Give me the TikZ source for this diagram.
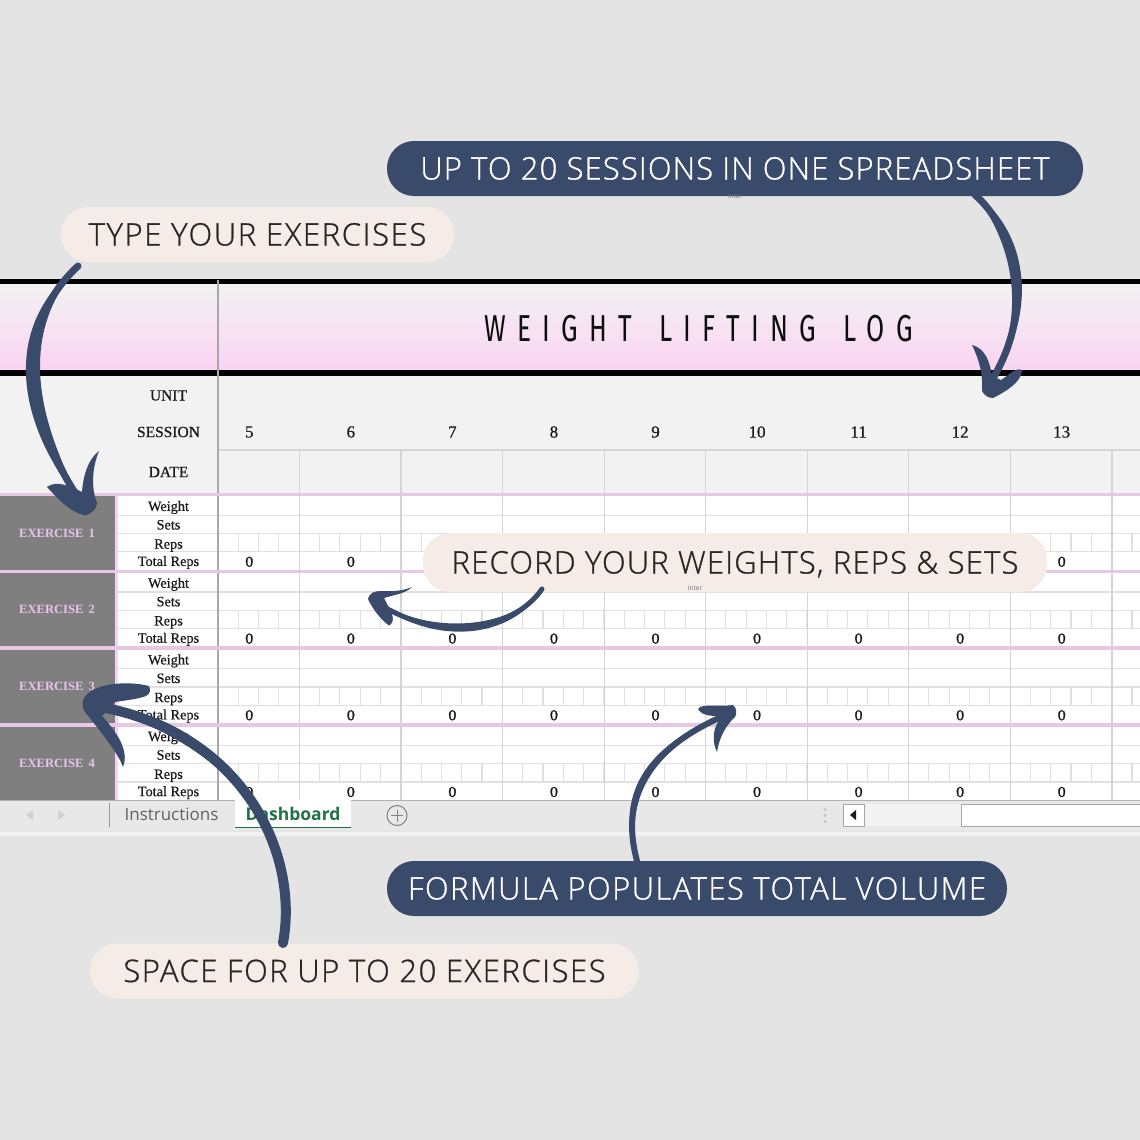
\documentclass[tikz,border=0pt]{standalone}
\usepackage{fontspec}
\setmainfont{Liberation Serif}
\newfontfamily\cellfont[FakeBold=0.5]{Liberation Serif}
\newfontfamily\pillfont[FakeBold=0.9]{Open Sans Light}
\newfontfamily\uifont{Open Sans}
\newfontfamily\zerofont[FakeBold=1.5]{DejaVu Serif}
\newfontfamily\titlefont[FakeStretch=0.7,LetterSpace=30]{Fira Sans}
\definecolor{pagebg}{HTML}{E4E4E4}
\definecolor{headbg}{HTML}{F2F2F2}
\definecolor{headpink}{HTML}{FAD4F2}
\definecolor{gridc}{HTML}{E0E0E0}
\definecolor{colc}{HTML}{D4D4D4}
\definecolor{darkcol}{HTML}{A8A8A8}
\definecolor{pinkline}{HTML}{E8C6E6}
\definecolor{pinkstripe}{HTML}{F6D2F3}
\definecolor{blockc}{HTML}{7F7F7F}
\definecolor{extext}{HTML}{EBC3EC}
\definecolor{ink}{HTML}{3A4A6A}
\definecolor{pilllight}{HTML}{F5EBE7}
\definecolor{pilltext}{HTML}{2B2526}
\definecolor{tabgreen}{HTML}{217346}
\definecolor{tabbar}{HTML}{E8E8E8}
\newcommand{\ls}[1]{\addfontfeature{LetterSpace=#1}}
\tikzset{
  x=1pt,y=-1pt,
  pill/.style={rounded corners=27pt,inner sep=0pt,minimum height=55pt,
    text height=22pt,text depth=0pt,
    font=\pillfont\fontsize{31}{36}\selectfont},
  lightpill/.style={pill,fill=pilllight,text=pilltext},
  darkpill/.style={pill,fill=ink,text=white},
  tiny label/.style={inner sep=0pt,text=black!55,font=\uifont\fontsize{6.5}{7}\selectfont},
  rowlabel/.style={inner sep=0pt,text=black!90,font=\cellfont\fontsize{14.3}{16}\selectfont},
  headlabel/.style={inner sep=0pt,text=black!90,font=\cellfont\fontsize{15.5}{18}\selectfont},
  exlabel/.style={inner sep=0pt,text=extext,font=\bfseries\fontsize{12.6}{16}\selectfont},
  zerolabel/.style={inner sep=0pt,text=black!90,font=\zerofont\fontsize{13.5}{16}\selectfont},
  shaft/.style={draw=ink,line cap=round},
  inkfill/.style={fill=ink},
}
\begin{document}
\begin{tikzpicture}
\useasboundingbox (0,0) rectangle (1140,1140);
\fill[pagebg] (0,0) rectangle (1140,1140);
% header
\shade[top color=headbg,bottom color=headpink] (0,284) rectangle (1140,369);
\fill[headbg] (0,376) rectangle (1140,494);
\fill[black] (0,279) rectangle (1140,284);
\fill[black] (0,369.5) rectangle (1140,375.5);
% body
\fill[white] (118,494) rectangle (1140,800);
\foreach \b in {494.5,571.3,648,724.7}{
  \fill[blockc] (0,\b) rectangle (114.5,\b+76.7);
  \fill[pinkstripe] (114.5,\b) rectangle (118,\b+76.7);
  \foreach \o in {20.8,39,57.3}{
    \draw[gridc,line width=1.3pt] (118,\b+\o) -- (1140,\b+\o);
  }
  \foreach \k in {0,...,45}{
    \draw[gridc,line width=1.1pt] (218+20.31*\k,\b+39) -- (218+20.31*\k,\b+57.3);
  }
}
% column lines
\draw[colc,line width=1.2pt] (218,450) -- (1140,450);
\foreach \k in {0,...,8}{
  \draw[colc,line width=1.2pt] (299.5+101.55*\k,450) -- (299.5+101.55*\k,800);
}
\draw[darkcol,line width=1.2pt] (218,280) -- (218,800);
% pink separators
\foreach \b in {494.5,571.3,648,724.7}{
  \fill[pinkline] (0,\b-1.8) rectangle (1140,\b+1.8);
}
% header text
\node[inner sep=0pt,text=black!95,font=\titlefont\fontsize{37.5}{40}\selectfont] (title) at (698.5,329) {WEIGHT\hspace{9pt} LIFTING\hspace{9pt} LOG};
\node[headlabel] (unit) at (168.5,395.5) {UNIT};
\node[headlabel] (session) at (168.5,432) {SESSION};
\node[headlabel] (date) at (168.5,472) {DATE};
\foreach \k in {0,...,8}{
  \pgfmathtruncatemacro{\num}{\k+5}
  \node[headlabel,font=\cellfont\fontsize{17}{18}\selectfont] (ses\num) at (249.3+101.55*\k,432) {\num};
}
% exercise rows
\foreach \i/\b in {1/494.5,2/571.3,3/648,4/724.7}{
  \node[exlabel] (ex\i) at (57,\b+38.5) {EXERCISE\hspace{5pt}\i};
  \node[rowlabel] (w\i) at (168.5,\b+13) {Weight};
  \node[rowlabel] (s\i) at (168.5,\b+30.3) {Sets};
  \node[rowlabel] (r\i) at (168.5,\b+51) {Reps};
  \node[rowlabel] (t\i) at (168.5,\b+68) {Total Reps};
}
\foreach \i/\b/\cols in {1/494.5/{0,1,8},2/571.3/{0,...,8},3/648/{0,...,8},4/724.7/{0,...,8}}{
  \foreach \k in \cols {
    \node[zerolabel] (z\i-\k) at (249.3+101.55*\k,\b+67.3) {0};
  }
}
% tab bar
\fill[tabbar] (0,800) rectangle (1140,831);
\draw[black!30,line width=1pt] (0,800.3) -- (1140,800.3);
\fill[headbg] (0,831.5) rectangle (1140,835.5);
\fill[black!18] (26,815) -- (33,810) -- (33,820) -- cycle;
\fill[black!18] (65,815) -- (58,810) -- (58,820) -- cycle;
\draw[black!40,line width=1pt] (109.5,803) -- (109.5,827);
\node[inner sep=0pt,text=black!62,font=\uifont\fontsize{17}{20}\selectfont] (instr) at (171.5,814) {Instructions};
\fill[white] (235,800) rectangle (350.5,827);
\draw[tabgreen,line width=1.5pt] (235,827.5) -- (350.5,827.5);
\node[inner sep=0pt,text=tabgreen,font=\uifont\bfseries\fontsize{17.5}{20}\selectfont] (dash) at (293,814) {Dashboard};
\node[draw=black!50,circle,line width=1pt,minimum size=20pt,inner sep=0pt] (plus) at (397,815.5) {};
\draw[black!50,line width=1pt] (plus.center) +(-6,0) -- +(6,0);
\draw[black!50,line width=1pt] (plus.center) +(0,-6) -- +(0,6);
\foreach \yy in {809.5,815.5,821.5}{\fill[black!25] (825,\yy) circle (1.5pt);}
\fill[headbg] (864,804) rectangle (961,826);
\draw[white,fill=white] (961,804.5) rectangle (1140,826);
\draw[black!35,line width=1pt] (1140,804.5) -- (961.5,804.5) -- (961.5,826) -- (1140,826);
\draw[black!35,fill=white,line width=1pt] (843,804) rectangle (864.5,826);
\fill[black!90] (850,815) -- (856,810) -- (856,820) -- cycle;
% pills
\node[darkpill,minimum width=696pt] (sessions) at (735,168.5) {\ls{3.7}UP TO 20 SESSIONS IN ONE SPREADSHEET};
\node[lightpill,minimum width=393pt] (type) at (257.5,234.5) {\ls{5.3}TYPE YOUR EXERCISES};
\node[lightpill,minimum width=624pt,minimum height=59pt] (record) at (735,562.5) {\ls{3.9}RECORD YOUR WEIGHTS, REPS \& SETS};
\node[darkpill,minimum width=620pt] (formula) at (697,888.5) {\ls{4.7}FORMULA POPULATES TOTAL VOLUME};
\node[lightpill,minimum width=549pt] (space) at (364.5,971) {\ls{5.0}SPACE FOR UP TO 20 EXERCISES};
\node[tiny label] (inter1) at (735,196.5) {Inter};
\node[tiny label] (inter2) at (695,588) {Inter};
% arrow ends
\coordinate (a1s) at (78,266);
\coordinate (a1e) at (83,505);
\coordinate (a2s) at (975,195);
\coordinate (a2e) at (992,380);
\coordinate (a3s) at (542,589);
\coordinate (a3e) at (375,601);
\coordinate (a4s) at (637,861);
\coordinate (a4e) at (728,714);
\coordinate (a5s) at (283,943);
\coordinate (a5e) at (95,706);
% arrow 1
\draw[shaft,line width=7pt] (a1s) .. controls (10,330) and (25,420) .. (a1e);
\fill[ink] (a1s) .. controls (1,326) and (15,424) .. (a1e) .. controls (35,416) and (19,334) .. (a1s) -- cycle;
\fill[inkfill] (99,451) .. controls (87,460) and (83,478) .. (82,492) .. controls (70,486) and (56,480) .. (47,487) .. controls (58,499) and (70,512) .. (85,515.5) .. controls (91,514) and (97,509) .. (97,503) .. controls (91,488) and (92,468) .. cycle;
% arrow 2
\draw[shaft,line width=7pt] (a2s) .. controls (1010,225) and (1040,300) .. (a2e);
\fill[ink] (a2s) .. controls (1003,230) and (1033,300) .. (a2e) .. controls (1047,300) and (1017,220) .. (a2s) -- cycle;
\fill[inkfill] (972,345) .. controls (985,348) and (990,362) .. (992,376) -- (1001,380) .. controls (1008,376) and (1015,367) .. (1022,370) .. controls (1022,382) and (1005,392) .. (993,398) .. controls (988,398) and (984,395) .. (982,391) .. controls (983,375) and (980,362) .. cycle;
% arrow 3
\draw[shaft,line width=5pt] (a3s) .. controls (510,635) and (430,640) .. (a3e);
\fill[ink] (a3s) .. controls (510,630) and (430,635) .. (a3e) .. controls (430,646) and (512,641) .. (a3s) -- cycle;
\fill[inkfill] (412,587) .. controls (405,594) and (393,595) .. (384,598) -- (388,606) .. controls (392,612) and (396,622) .. (389,625.5) .. controls (381,620) and (372,608) .. (368,599) .. controls (370,592) and (375,591) .. (382,591) .. controls (395,592) and (405,590) .. cycle;
% arrow 4
\draw[shaft,line width=6pt] (a4s) .. controls (618,790) and (655,745) .. (a4e);
\fill[ink] (a4s) .. controls (612,790) and (652,741) .. (a4e) .. controls (658,749) and (624,790) .. (a4s) -- cycle;
\fill[inkfill] (698,709) .. controls (702,703) and (720,707) .. (733,705) .. controls (737,708) and (737,714) .. (735,717) .. controls (726,725) and (719,738) .. (717,752) .. controls (712,742) and (713,730) .. (718,722) -- (720,716) .. controls (712,716) and (702,716) .. cycle;
% arrow 5
\draw[shaft,line width=10pt] (a5s) .. controls (300,850) and (240,730) .. (a5e);
\fill[ink] (a5s) .. controls (288,850) and (242,716) .. (a5e) .. controls (234,744) and (312,850) .. (a5s) -- cycle;
\fill[inkfill] (149,686) .. controls (151,690) and (150,694) .. (146,696) .. controls (138,699) and (128,700) .. (115,702) -- (102,716) .. controls (115,730) and (130,750) .. (123,767) .. controls (118,752) and (96,726) .. (85,712) .. controls (82,708) and (82,702) .. (84,698) .. controls (92,684) and (125,680) .. cycle;
\end{tikzpicture}
\end{document}
